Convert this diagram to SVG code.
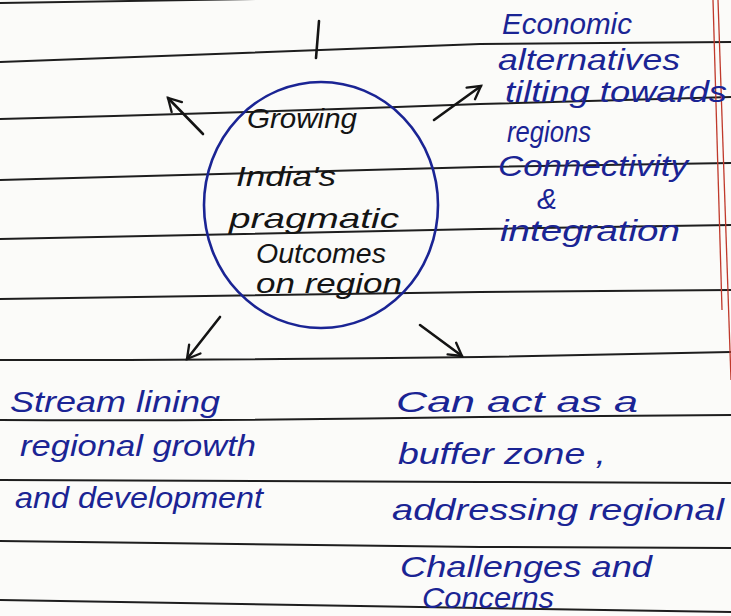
<svg xmlns="http://www.w3.org/2000/svg" width="731" height="616" viewBox="0 0 731 616">
<defs>
<style>
.rule{fill:none;stroke:#1e1e1e;stroke-width:2}
.margin{fill:none;stroke:#c0392b;stroke-width:1.3}
.ink{font-family:"Liberation Sans","DejaVu Sans",sans-serif;font-style:italic;font-size:28px;fill:#141414}
.blue{font-family:"Liberation Sans","DejaVu Sans",sans-serif;font-style:italic;font-size:30px;fill:#1a2494}
.conn{fill:none;stroke:#141414;stroke-width:2.6;stroke-linecap:round}
</style>
<marker id="head" viewBox="0 0 20 20" refX="17" refY="10" markerWidth="18" markerHeight="18" markerUnits="userSpaceOnUse" orient="auto">
<path d="M3,2 L17,10 L3,18" fill="none" stroke="#141414" stroke-width="2.6" stroke-linecap="round"/>
</marker>
</defs>
<rect width="731" height="616" fill="#fbfbf9"/>
<g id="paper">
<path class="rule" d="M0,3 L260,-1"/>
<path class="rule" d="M0,62 Q240,52 480,44 L731,42"/>
<path class="rule" d="M0,119 Q240,113 480,104 L731,97"/>
<path class="rule" d="M0,180 Q240,173 480,167 L731,163"/>
<path class="rule" d="M0,239 Q240,235 480,229 L731,225"/>
<path class="rule" d="M0,299 Q240,296 480,292 L731,290"/>
<path class="rule" d="M0,360 Q240,360 480,357 L731,352"/>
<path class="rule" d="M0,420 Q240,421 480,417 L731,415"/>
<path class="rule" d="M0,480 Q240,482 480,482 L731,483"/>
<path class="rule" d="M0,541 Q240,545 480,547 L731,548"/>
<path class="rule" d="M0,600 Q240,603 480,608 L731,612"/>
<path class="margin" d="M713,0 L722,310"/>
<path class="margin" d="M718,0 L731,380"/>
</g>
<g id="connectors">
<path class="conn" d="M319,21 L316,58"/>
<path class="conn" d="M203,134 L168,98" marker-end="url(#head)"/>
<path class="conn" d="M434,120 L481,86" marker-end="url(#head)"/>
<path class="conn" d="M220,317 L187,359" marker-end="url(#head)"/>
<path class="conn" d="M420,325 L462,356" marker-end="url(#head)"/>
</g>
<g id="center">
<ellipse cx="321" cy="205" rx="117" ry="123" fill="none" stroke="#1a2494" stroke-width="2.6"/>
<text class="ink" x="247" y="128" textLength="110" lengthAdjust="spacingAndGlyphs">Growing</text>
<text class="ink" x="236" y="186" textLength="100" lengthAdjust="spacingAndGlyphs">India's</text>
<text class="ink" x="229" y="228" textLength="170" lengthAdjust="spacingAndGlyphs">pragmatic</text>
<text class="ink" x="256" y="263" textLength="130" lengthAdjust="spacingAndGlyphs">Outcomes</text>
<text class="ink" x="256" y="293" textLength="146" lengthAdjust="spacingAndGlyphs">on region</text>
</g>
<g id="economic">
<text class="blue" x="502" y="34" textLength="130" lengthAdjust="spacingAndGlyphs">Economic</text>
<text class="blue" x="498" y="70" textLength="182" lengthAdjust="spacingAndGlyphs">alternatives</text>
<text class="blue" x="505" y="102" textLength="222" lengthAdjust="spacingAndGlyphs">tilting towards</text>
<text class="blue" x="507" y="142" textLength="84" lengthAdjust="spacingAndGlyphs">regions</text>
<text class="blue" x="498" y="176" font-size="28" textLength="190" lengthAdjust="spacingAndGlyphs">Connectivity</text>
<text class="blue" x="537" y="209" font-size="12">&amp;</text>
<text class="blue" x="500" y="241" textLength="180" lengthAdjust="spacingAndGlyphs">integration</text>
</g>
<g id="streamlining">
<text class="blue" x="10" y="412" textLength="210" lengthAdjust="spacingAndGlyphs">Stream lining</text>
<text class="blue" x="20" y="456" textLength="236" lengthAdjust="spacingAndGlyphs">regional growth</text>
<text class="blue" x="15" y="508" textLength="248" lengthAdjust="spacingAndGlyphs">and development</text>
</g>
<g id="buffer">
<text class="blue" x="396" y="412" textLength="242" lengthAdjust="spacingAndGlyphs">Can act as a</text>
<text class="blue" x="398" y="464" textLength="208" lengthAdjust="spacingAndGlyphs">buffer zone ,</text>
<text class="blue" x="392" y="520" textLength="332" lengthAdjust="spacingAndGlyphs">addressing regional</text>
<text class="blue" x="400" y="577" textLength="252" lengthAdjust="spacingAndGlyphs">Challenges and</text>
<text class="blue" x="422" y="608" font-size="26" textLength="132" lengthAdjust="spacingAndGlyphs">Concerns</text>
</g>
</svg>
